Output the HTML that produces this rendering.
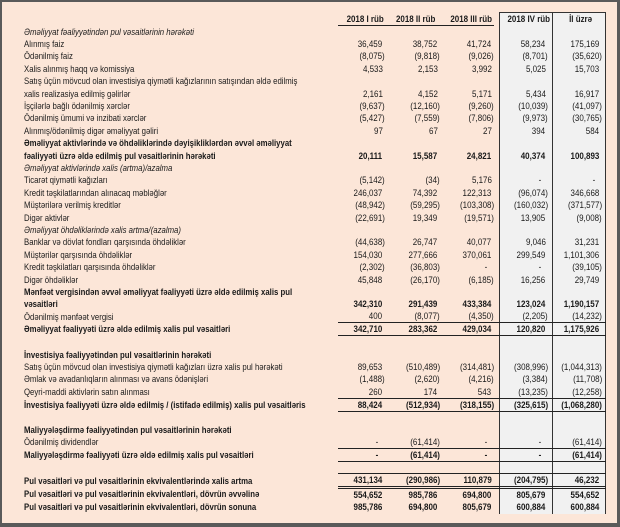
<!DOCTYPE html>
<html><head><meta charset="utf-8"><style>
*{margin:0;padding:0;box-sizing:border-box}
body{width:620px;height:527px;overflow:hidden;background:#fff;font-family:"Liberation Sans",sans-serif;color:#1a1a1a}
#fr{position:absolute;left:0;top:0;width:620px;height:527px;background:#5a5a5a}
#in{position:absolute;left:2px;top:2px;width:615px;height:521px;background:#fce6d8}
#box{position:absolute;left:499px;top:12px;width:107px;height:502px;background:#f1f1f1;border-left:1px solid #333;border-right:1px solid #333;border-top:1px solid #333}
#sep{position:absolute;left:552px;top:12px;width:1px;height:502px;background:#333}
table{position:absolute;left:0;top:13px;width:606px;border-collapse:collapse;table-layout:fixed}
td{height:12.4px;font-size:9.4px;line-height:12px;white-space:nowrap;padding:0;overflow:visible}
td.l{padding-left:24px}
td.n{text-align:right}
td.c4,td.c5{padding-right:4px}
.s{display:inline-block;transform:scaleX(.83);transform-origin:left center}
.v{display:inline-block;transform:scaleX(.85);transform-origin:right center}
.p{padding-right:3px}
.d{padding-right:8px}
tr.b td{font-weight:bold}
tr.i td.l{font-style:italic}
tr.h td{font-weight:bold;text-align:center}
tr.h td.u{border-bottom:1px solid #222}
tr.t td.n{border-top:1px solid #222;border-bottom:1px solid #222}
tr.dd td.n{border-top:1px solid #222;border-bottom:3px double #222}
</style></head><body>
<div id="fr"></div><div id="in"></div><div id="box"></div><div id="sep"></div>
<table>
<colgroup><col style="width:338px"><col style="width:47px"><col style="width:55px"><col style="width:54px"><col style="width:5px"><col style="width:53px"><col style="width:54px"></colgroup>
<tr class="h"><td></td><td class="u"><span class="v">2018 I rüb</span></td><td class="u"><span class="v">2018 II rüb</span></td><td class="u"><span class="v">2018 III rüb</span></td><td></td><td><span class="v">2018 IV rüb</span></td><td><span class="v">İl üzrə</span></td></tr>
<tr class="i"><td class="l"><span class="s">Əməliyyat fəaliyyətindən pul vəsaitlərinin hərəkəti</span></td><td></td><td></td><td></td><td></td><td></td><td></td></tr>
<tr><td class="l"><span class="s">Alınmış faiz</span></td><td class="n"><span class="v p">36,459</span></td><td class="n"><span class="v p">38,752</span></td><td class="n"><span class="v p">41,724</span></td><td></td><td class="n c4"><span class="v p">58,234</span></td><td class="n c5"><span class="v p">175,169</span></td></tr>
<tr><td class="l"><span class="s">Ödənilmiş faiz</span></td><td class="n"><span class="v">(8,075)</span></td><td class="n"><span class="v">(9,818)</span></td><td class="n"><span class="v">(9,026)</span></td><td></td><td class="n c4"><span class="v">(8,701)</span></td><td class="n c5"><span class="v">(35,620)</span></td></tr>
<tr><td class="l"><span class="s">Xalis alınmış haqq və komissiya</span></td><td class="n"><span class="v p">4,533</span></td><td class="n"><span class="v p">2,153</span></td><td class="n"><span class="v p">3,992</span></td><td></td><td class="n c4"><span class="v p">5,025</span></td><td class="n c5"><span class="v p">15,703</span></td></tr>
<tr><td class="l"><span class="s">Satış üçün mövcud olan investisiya qiymətli kağızlarının satışından əldə edilmiş</span></td><td></td><td></td><td></td><td></td><td></td><td></td></tr>
<tr><td class="l"><span class="s">xalis realizasiya edilmiş gəlirlər</span></td><td class="n"><span class="v p">2,161</span></td><td class="n"><span class="v p">4,152</span></td><td class="n"><span class="v p">5,171</span></td><td></td><td class="n c4"><span class="v p">5,434</span></td><td class="n c5"><span class="v p">16,917</span></td></tr>
<tr><td class="l"><span class="s">İşçilərlə bağlı ödənilmiş xərclər</span></td><td class="n"><span class="v">(9,637)</span></td><td class="n"><span class="v">(12,160)</span></td><td class="n"><span class="v">(9,260)</span></td><td></td><td class="n c4"><span class="v">(10,039)</span></td><td class="n c5"><span class="v">(41,097)</span></td></tr>
<tr><td class="l"><span class="s">Ödənilmiş ümumi və inzibati xərclər</span></td><td class="n"><span class="v">(5,427)</span></td><td class="n"><span class="v">(7,559)</span></td><td class="n"><span class="v">(7,806)</span></td><td></td><td class="n c4"><span class="v">(9,973)</span></td><td class="n c5"><span class="v">(30,765)</span></td></tr>
<tr><td class="l"><span class="s">Alınmış/ödənilmiş digər əməliyyat gəliri</span></td><td class="n"><span class="v p">97</span></td><td class="n"><span class="v p">67</span></td><td class="n"><span class="v p">27</span></td><td></td><td class="n c4"><span class="v p">394</span></td><td class="n c5"><span class="v p">584</span></td></tr>
<tr class="b"><td class="l"><span class="s">Əməliyyat aktivlərində və öhdəliklərində dəyişikliklərdən əvvəl əməliyyat</span></td><td></td><td></td><td></td><td></td><td></td><td></td></tr>
<tr class="b"><td class="l"><span class="s">fəaliyyəti üzrə əldə edilmiş pul vəsaitlərinin hərəkəti</span></td><td class="n"><span class="v p">20,111</span></td><td class="n"><span class="v p">15,587</span></td><td class="n"><span class="v p">24,821</span></td><td></td><td class="n c4"><span class="v p">40,374</span></td><td class="n c5"><span class="v p">100,893</span></td></tr>
<tr class="i"><td class="l"><span class="s">Əməliyyat aktivlərində xalis (artma)/azalma</span></td><td></td><td></td><td></td><td></td><td></td><td></td></tr>
<tr><td class="l"><span class="s">Ticarət qiymətli kağızları</span></td><td class="n"><span class="v">(5,142)</span></td><td class="n"><span class="v">(34)</span></td><td class="n"><span class="v p">5,176</span></td><td></td><td class="n c4"><span class="v d">-</span></td><td class="n c5"><span class="v d">-</span></td></tr>
<tr><td class="l"><span class="s">Kredit təşkilatlarından alınacaq məbləğlər</span></td><td class="n"><span class="v p">246,037</span></td><td class="n"><span class="v p">74,392</span></td><td class="n"><span class="v p">122,313</span></td><td></td><td class="n c4"><span class="v">(96,074)</span></td><td class="n c5"><span class="v p">346,668</span></td></tr>
<tr><td class="l"><span class="s">Müştərilərə verilmiş kreditlər</span></td><td class="n"><span class="v">(48,942)</span></td><td class="n"><span class="v">(59,295)</span></td><td class="n"><span class="v">(103,308)</span></td><td></td><td class="n c4"><span class="v">(160,032)</span></td><td class="n c5"><span class="v">(371,577)</span></td></tr>
<tr><td class="l"><span class="s">Digər aktivlər</span></td><td class="n"><span class="v">(22,691)</span></td><td class="n"><span class="v p">19,349</span></td><td class="n"><span class="v">(19,571)</span></td><td></td><td class="n c4"><span class="v p">13,905</span></td><td class="n c5"><span class="v">(9,008)</span></td></tr>
<tr class="i"><td class="l"><span class="s">Əməliyyat öhdəliklərində xalis artma/(azalma)</span></td><td></td><td></td><td></td><td></td><td></td><td></td></tr>
<tr><td class="l"><span class="s">Banklar və dövlət fondları qarşısında öhdəliklər</span></td><td class="n"><span class="v">(44,638)</span></td><td class="n"><span class="v p">26,747</span></td><td class="n"><span class="v p">40,077</span></td><td></td><td class="n c4"><span class="v p">9,046</span></td><td class="n c5"><span class="v p">31,231</span></td></tr>
<tr><td class="l"><span class="s">Müştərilər qarşısında öhdəliklər</span></td><td class="n"><span class="v p">154,030</span></td><td class="n"><span class="v p">277,666</span></td><td class="n"><span class="v p">370,061</span></td><td></td><td class="n c4"><span class="v p">299,549</span></td><td class="n c5"><span class="v p">1,101,306</span></td></tr>
<tr><td class="l"><span class="s">Kredit təşkilatları qarşısında öhdəliklər</span></td><td class="n"><span class="v">(2,302)</span></td><td class="n"><span class="v">(36,803)</span></td><td class="n"><span class="v d">-</span></td><td></td><td class="n c4"><span class="v d">-</span></td><td class="n c5"><span class="v">(39,105)</span></td></tr>
<tr><td class="l"><span class="s">Digər öhdəliklər</span></td><td class="n"><span class="v p">45,848</span></td><td class="n"><span class="v">(26,170)</span></td><td class="n"><span class="v">(6,185)</span></td><td></td><td class="n c4"><span class="v p">16,256</span></td><td class="n c5"><span class="v p">29,749</span></td></tr>
<tr class="b"><td class="l"><span class="s">Mənfəət vergisindən əvvəl əməliyyat fəaliyyəti üzrə əldə edilmiş xalis pul</span></td><td></td><td></td><td></td><td></td><td></td><td></td></tr>
<tr class="b"><td class="l"><span class="s">vəsaitləri</span></td><td class="n"><span class="v p">342,310</span></td><td class="n"><span class="v p">291,439</span></td><td class="n"><span class="v p">433,384</span></td><td></td><td class="n c4"><span class="v p">123,024</span></td><td class="n c5"><span class="v p">1,190,157</span></td></tr>
<tr><td class="l"><span class="s">Ödənilmiş mənfəət vergisi</span></td><td class="n"><span class="v p">400</span></td><td class="n"><span class="v">(8,077)</span></td><td class="n"><span class="v">(4,350)</span></td><td></td><td class="n c4"><span class="v">(2,205)</span></td><td class="n c5"><span class="v">(14,232)</span></td></tr>
<tr class="b t"><td class="l"><span class="s">Əməliyyat fəaliyyəti üzrə əldə edilmiş xalis pul vəsaitləri</span></td><td class="n"><span class="v p">342,710</span></td><td class="n"><span class="v p">283,362</span></td><td class="n"><span class="v p">429,034</span></td><td class="n"></td><td class="n c4"><span class="v p">120,820</span></td><td class="n c5"><span class="v p">1,175,926</span></td></tr>
<tr><td></td><td></td><td></td><td></td><td></td><td></td><td></td></tr>
<tr class="b"><td class="l"><span class="s">İnvestisiya fəaliyyətindən pul vəsaitlərinin hərəkəti</span></td><td></td><td></td><td></td><td></td><td></td><td></td></tr>
<tr><td class="l"><span class="s">Satış üçün mövcud olan investisiya qiymətli kağızları üzrə xalis pul hərəkəti</span></td><td class="n"><span class="v p">89,653</span></td><td class="n"><span class="v">(510,489)</span></td><td class="n"><span class="v">(314,481)</span></td><td></td><td class="n c4"><span class="v">(308,996)</span></td><td class="n c5"><span class="v">(1,044,313)</span></td></tr>
<tr><td class="l"><span class="s">Əmlak və avadanlıqların alınması və avans ödənişləri</span></td><td class="n"><span class="v">(1,488)</span></td><td class="n"><span class="v">(2,620)</span></td><td class="n"><span class="v">(4,216)</span></td><td></td><td class="n c4"><span class="v">(3,384)</span></td><td class="n c5"><span class="v">(11,708)</span></td></tr>
<tr><td class="l"><span class="s">Qeyri-maddi aktivlərin satın alınması</span></td><td class="n"><span class="v p">260</span></td><td class="n"><span class="v p">174</span></td><td class="n"><span class="v p">543</span></td><td></td><td class="n c4"><span class="v">(13,235)</span></td><td class="n c5"><span class="v">(12,258)</span></td></tr>
<tr class="b t"><td class="l"><span class="s">İnvestisiya fəaliyyəti üzrə əldə edilmiş / (istifadə edilmiş) xalis pul vəsaitləris</span></td><td class="n"><span class="v p">88,424</span></td><td class="n"><span class="v">(512,934)</span></td><td class="n"><span class="v">(318,155)</span></td><td class="n"></td><td class="n c4"><span class="v">(325,615)</span></td><td class="n c5"><span class="v">(1,068,280)</span></td></tr>
<tr><td></td><td></td><td></td><td></td><td></td><td></td><td></td></tr>
<tr class="b"><td class="l"><span class="s">Maliyyələşdirmə fəaliyyətindən pul vəsaitlərinin hərəkəti</span></td><td></td><td></td><td></td><td></td><td></td><td></td></tr>
<tr><td class="l"><span class="s">Ödənilmiş dividendlər</span></td><td class="n"><span class="v d">-</span></td><td class="n"><span class="v">(61,414)</span></td><td class="n"><span class="v d">-</span></td><td></td><td class="n c4"><span class="v d">-</span></td><td class="n c5"><span class="v">(61,414)</span></td></tr>
<tr class="b t"><td class="l"><span class="s">Maliyyələşdirmə fəaliyyəti üzrə əldə edilmiş xalis pul vəsaitləri</span></td><td class="n"><span class="v d">-</span></td><td class="n"><span class="v">(61,414)</span></td><td class="n"><span class="v d">-</span></td><td class="n"></td><td class="n c4"><span class="v d">-</span></td><td class="n c5"><span class="v">(61,414)</span></td></tr>
<tr><td></td><td></td><td></td><td></td><td></td><td></td><td></td></tr>
<tr class="b dd"><td class="l"><span class="s">Pul vəsaitləri və pul vəsaitlərinin ekvivalentlərində xalis artma</span></td><td class="n"><span class="v p">431,134</span></td><td class="n"><span class="v">(290,986)</span></td><td class="n"><span class="v p">110,879</span></td><td class="n"></td><td class="n c4"><span class="v">(204,795)</span></td><td class="n c5"><span class="v p">46,232</span></td></tr>
<tr class="b"><td class="l"><span class="s">Pul vəsaitləri və pul vəsaitlərinin ekvivalentləri, dövrün əvvəlinə</span></td><td class="n"><span class="v p">554,652</span></td><td class="n"><span class="v p">985,786</span></td><td class="n"><span class="v p">694,800</span></td><td></td><td class="n c4"><span class="v p">805,679</span></td><td class="n c5"><span class="v p">554,652</span></td></tr>
<tr class="b"><td class="l"><span class="s">Pul vəsaitləri və pul vəsaitlərinin ekvivalentləri, dövrün sonuna</span></td><td class="n"><span class="v p">985,786</span></td><td class="n"><span class="v p">694,800</span></td><td class="n"><span class="v p">805,679</span></td><td></td><td class="n c4"><span class="v p">600,884</span></td><td class="n c5"><span class="v p">600,884</span></td></tr>
</table>
</body></html>
